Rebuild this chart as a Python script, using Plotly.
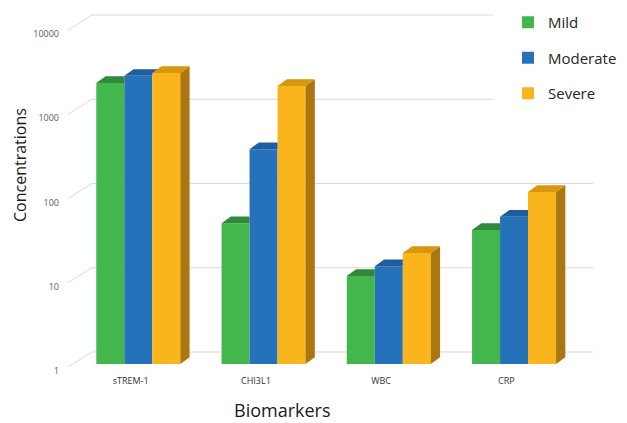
import numpy as np
import plotly.graph_objects as go

# ---------------- data ----------------
categories = ["sTREM-1", "CHI3L1", "WBC", "CRP"]
series_names = ["Mild", "Moderate", "Severe"]
mild = [2160, 47, 11.1, 39]
moderate = [2630, 355, 14.5, 56]
severe = [2840, 2000, 20.8, 110]
y_tick_vals = [1, 10, 100, 1000, 10000]
y_tick_text = ["1", "10", "100", "1000", "10000"]

# ---------------- style ----------------
front_colors = ["#43B64C", "#2672BA", "#FBB51C"]
top_colors = ["#2E8A3A", "#1E5D9F", "#D9960F"]
side_colors = ["#267530", "#184C83", "#AD7710"]
W = 0.2235                      # bar width (category units)
offsets = [-0.274, -0.0505, 0.173]
DX = 0.0742                     # 3D depth, x (category units)
DY = 0.0795                     # 3D depth, y (decades)
FONT = "Open Sans"

series = [mild, moderate, severe]
pos = list(range(len(categories)))


def clip(poly, axis, value, keep_ge):
    """Clip convex polygon (list of (x, y)) by half-plane."""
    out = []
    n = len(poly)
    for k in range(n):
        a, b = poly[k], poly[(k + 1) % n]
        ina = (a[axis] >= value) if keep_ge else (a[axis] <= value)
        inb = (b[axis] >= value) if keep_ge else (b[axis] <= value)
        if ina:
            out.append(a)
        if ina != inb:
            t = (value - a[axis]) / (b[axis] - a[axis])
            out.append((a[0] + t * (b[0] - a[0]), a[1] + t * (b[1] - a[1])))
    return out


fig = go.Figure()

# front faces (real bars)
for i, (name, vals) in enumerate(zip(series_names, series)):
    fig.add_trace(go.Bar(
        x=pos, y=vals, width=W, offset=offsets[i], name=name,
        legendgroup=name,
        marker=dict(color=front_colors[i], line=dict(width=0)),
    ))

# top and side faces for the 3D look (derived from the data)
for i, vals in enumerate(series):
    tx, ty, sx, sy = [], [], [], []
    for j, v in enumerate(vals):
        x0 = pos[j] + offsets[i]
        x1 = x0 + W
        L = np.log10(v)
        top = [(x0, L), (x1, L), (x1 + DX, L + DY), (x0 + DX, L + DY)]
        side = [(x1, 0), (x1, L), (x1 + DX, L + DY), (x1 + DX, DY)]
        for face, xs, ys in ((top, tx, ty), (side, sx, sy)):
            if i + 1 < len(series):
                Ln = np.log10(series[i + 1][j])
                pieces = [clip(face, 0, x1, False),
                          clip(clip(face, 0, x1, True), 1, Ln, True)]
            else:
                pieces = [face]
            for p in pieces:
                if len(p) < 3:
                    continue
                p = p + [p[0]]
                xs += [q[0] for q in p] + [None]
                ys += [10 ** q[1] for q in p] + [None]
    if sx:
        fig.add_trace(go.Scatter(x=sx, y=sy, fill="toself", mode="lines",
                                 line=dict(width=0, color=side_colors[i]),
                                 fillcolor=side_colors[i], showlegend=False,
                                 hoverinfo="skip"))
    if tx:
        fig.add_trace(go.Scatter(x=tx, y=ty, fill="toself", mode="lines",
                                 line=dict(width=0, color=top_colors[i]),
                                 fillcolor=top_colors[i], showlegend=False,
                                 hoverinfo="skip"))

# back-wall gridlines and diagonal tick connectors
PX_W = 501.0
PX_H = 337.0
shapes = []
for k in range(len(y_tick_vals)):
    yb = k / 4 + 12 / PX_H
    shapes.append(dict(type="line", xref="paper", yref="y domain",
                       x0=24 / PX_W, x1=525 / PX_W, y0=yb, y1=yb,
                       line=dict(color="#D9D9D9", width=1), layer="below"))
    shapes.append(dict(type="line", xref="paper", yref="y domain",
                       x0=0, x1=24 / PX_W, y0=k / 4 - 3 / PX_H, y1=yb,
                       line=dict(color="#D9D9D9", width=1), layer="below"))
# legend box background (hides back gridlines as in the original)
shapes.append(dict(type="rect", xref="paper", yref="y domain",
                   x0=425 / PX_W, x1=1.2, y0=(364 - 150) / PX_H, y1=1.2,
                   fillcolor="white", line=dict(width=0), layer="below"))

fig.update_layout(
    width=627, height=423,
    margin=dict(l=68, r=58, t=27, b=59, autoexpand=False),
    paper_bgcolor="white", plot_bgcolor="white",
    font=dict(family=FONT, color="#404040"),
    barmode="overlay",
    showlegend=True,
    legend=dict(xref="container", yref="container",
                x=508 / 627, y=1 - 6 / 423, xanchor="left",
                yanchor="top", font=dict(size=15, color="#262626", family=FONT),
                bgcolor="rgba(0,0,0,0)", tracegroupgap=13, itemwidth=30),
    xaxis=dict(range=[-0.5, 3.5], tickvals=pos, ticktext=categories,
               showgrid=False, zeroline=False, showline=False, ticks="",
               tickfont=dict(size=9, color="#333333", family=FONT),
               ticklabelstandoff=10, fixedrange=True, automargin=False),
    yaxis=dict(type="log", range=[0, 4], tickvals=y_tick_vals,
               ticktext=y_tick_text, showgrid=False, zeroline=False,
               showline=False, ticks="",
               tickfont=dict(size=9, color="#595959", family=FONT),
               ticklabelshift=7, ticklabelstandoff=8, fixedrange=True,
               automargin=False),
    shapes=shapes,
    annotations=[
        dict(text="Concentrations", xref="paper", yref="paper",
             x=(20 - 68) / PX_W, y=(364 - 165) / PX_H, textangle=-90,
             xanchor="center", yanchor="middle",
             showarrow=False, font=dict(size=16, color="#1A1A1A", family=FONT)),
        dict(text="Biomarkers", xref="paper", yref="paper",
             x=(282 - 68) / PX_W, y=(364 - 410) / PX_H,
             xanchor="center", yanchor="middle",
             showarrow=False, font=dict(size=18, color="#1A1A1A", family=FONT)),
    ],
)

fig.write_html("out.html")
